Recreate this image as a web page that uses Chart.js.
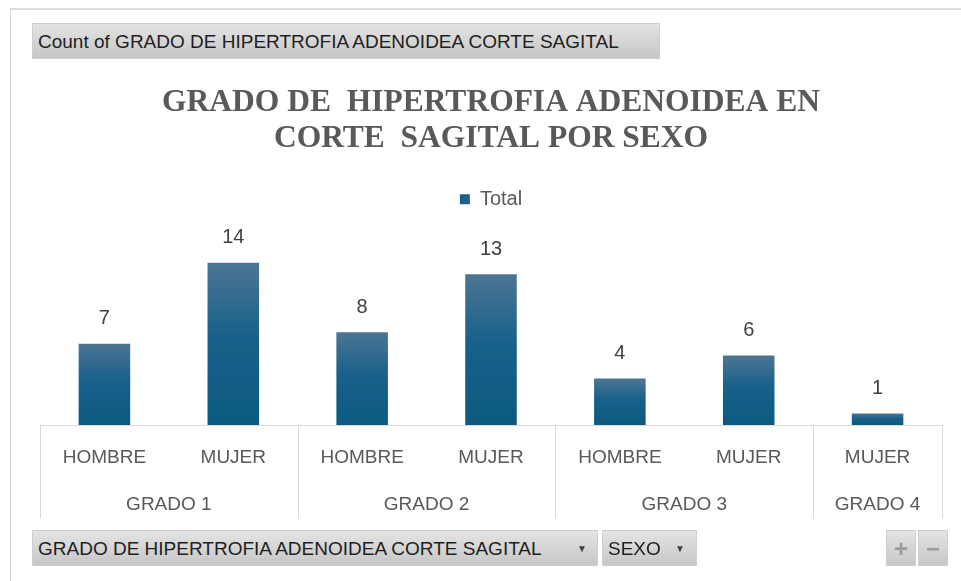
<!DOCTYPE html>
<html>
<head>
<meta charset="utf-8">
<script src="https://cdn.jsdelivr.net/npm/chart.js@4.4.1/dist/chart.umd.min.js"></script>
<style>
    html, body { margin: 0; padding: 0; background: #ffffff; }
    body { width: 961px; height: 581px; position: relative; overflow: hidden; font-family: "Liberation Sans", Arial, sans-serif; }
    #frame { position: absolute; left: 10px; top: 8px; width: 1000px; height: 600px; border-top: 2px solid #dcdcdc; border-left: 1px solid #d4d4d4; }
    #chartBox { position: absolute; left: 0; top: 0; width: 961px; height: 581px; }
    .pbtn {
        position: absolute; box-sizing: border-box; height: 36px; line-height: 36px;
        background: linear-gradient(#e4e4e4, #c6c6c6); border: 1px solid #cfcfcf;
        color: #1e1e1e; font-size: 19px; padding-left: 5px; white-space: nowrap;
    }
    .arrow { position: absolute; font-size: 10px; color: #404040; }
    .pm { text-align: center; padding: 0; color: #9b9b9b; font-size: 24px; font-weight: bold; }
</style>
</head>
<body>
<div id="frame"></div>
<div id="chartBox"><canvas id="graficoGrado"></canvas></div>
<div class="pbtn" style="left:32px; top:23px; width:628px;">Count of GRADO DE HIPERTROFIA ADENOIDEA CORTE SAGITAL</div>
<div class="pbtn" style="left:32px; top:530px; width:566px;">GRADO DE HIPERTROFIA ADENOIDEA CORTE SAGITAL<span class="arrow" style="left:544px;">&#9660;</span></div>
<div class="pbtn" style="left:602px; top:530px; width:95px;">SEXO<span class="arrow" style="left:72px;">&#9660;</span></div>
<div class="pbtn pm" style="left:886px; top:530px; width:30px;">+</div>
<div class="pbtn pm" style="left:918px; top:530px; width:30px;">&#8722;</div>
<script>
// Dados do gráfico
const sexo = ['HOMBRE', 'MUJER', 'HOMBRE', 'MUJER', 'HOMBRE', 'MUJER', 'MUJER'];
const grados = ['GRADO 1', 'GRADO 1', 'GRADO 2', 'GRADO 2', 'GRADO 3', 'GRADO 3', 'GRADO 4'];
const totales = [7, 14, 8, 13, 4, 6, 1];

const COLORS = {
    barTop: '#4d7594',
    barMid: '#18618a',
    barBottom: '#0c5a80',
    legend: '#1d6088',
    text: '#595959',
    label: '#404040',
    axis: '#d9d9d9'
};
const AXIS_HEIGHT = 93;

// gradiente por barra (mais claro no topo)
function barGradient(ctx) {
    const chart = ctx.chart;
    if (!chart.chartArea || ctx.type !== 'data') return COLORS.barMid;
    const y = chart.scales.y;
    const top = y.getPixelForValue(ctx.raw);
    const bottom = y.getPixelForValue(0);
    if (!isFinite(top) || !isFinite(bottom) || top === bottom) return COLORS.barMid;
    const g = chart.ctx.createLinearGradient(0, top, 0, bottom);
    g.addColorStop(0, COLORS.barTop);
    g.addColorStop(0.45, COLORS.barMid);
    g.addColorStop(1, COLORS.barBottom);
    return g;
}

// rótulos de valor acima das barras
const valueLabels = {
    id: 'valueLabels',
    afterDatasetsDraw(chart) {
        const ctx = chart.ctx;
        const meta = chart.getDatasetMeta(0);
        ctx.save();
        ctx.font = '20px "Liberation Sans", Arial, sans-serif';
        ctx.fillStyle = COLORS.label;
        ctx.textAlign = 'center';
        ctx.textBaseline = 'middle';
        meta.data.forEach((bar, i) => {
            ctx.fillText(String(totales[i]), bar.x, bar.y - 25);
        });
        ctx.restore();
    }
};

// eixo de categorias com dois níveis (sexo / grado)
const groupAxis = {
    id: 'groupAxis',
    afterDraw(chart) {
        const ctx = chart.ctx;
        const x = chart.scales.x;
        const area = chart.chartArea;
        const step = x.getPixelForValue(1) - x.getPixelForValue(0);
        const top = area.bottom;
        const bottom = area.bottom + AXIS_HEIGHT;

        // limites dos grupos
        const groups = [];
        grados.forEach((g, i) => {
            const last = groups[groups.length - 1];
            if (last && last.name === g) last.end = i;
            else groups.push({ name: g, start: i, end: i });
        });

        ctx.save();
        ctx.strokeStyle = COLORS.axis;
        ctx.lineWidth = 1;
        const edges = [x.getPixelForValue(0) - step / 2];
        groups.forEach(g => edges.push(x.getPixelForValue(g.end) + step / 2));
        edges.forEach(px => {
            const p = Math.round(px) + 0.5;
            ctx.beginPath();
            ctx.moveTo(p, top);
            ctx.lineTo(p, bottom);
            ctx.stroke();
        });

        ctx.font = '19px "Liberation Sans", Arial, sans-serif';
        ctx.fillStyle = COLORS.text;
        ctx.textAlign = 'center';
        ctx.textBaseline = 'middle';
        groups.forEach(g => {
            const cx = (x.getPixelForValue(g.start) + x.getPixelForValue(g.end)) / 2;
            ctx.fillText(g.name, cx, top + 80);
        });
        ctx.restore();
    }
};

function createGradoChart() {
    const canvas = document.getElementById('graficoGrado');
    if (typeof Chart === 'undefined' || !canvas) return;

    new Chart(canvas.getContext('2d'), {
        type: 'bar',
        data: {
            labels: sexo,
            datasets: [{
                label: 'Total',
                data: totales,
                backgroundColor: barGradient,
                borderWidth: 0,
                categoryPercentage: 1,
                barPercentage: 0.4
            }]
        },
        options: {
            responsive: true,
            maintainAspectRatio: false,
            animation: false,
            layout: { padding: { top: 85, left: 40, right: 19, bottom: 63 } },
            plugins: {
                title: {
                    display: true,
                    text: ['GRADO DE  HIPERTROFIA ADENOIDEA EN', 'CORTE  SAGITAL POR SEXO'],
                    color: COLORS.text,
                    font: { family: '"Liberation Serif", "Times New Roman", serif', size: 31.5, weight: 'bold', lineHeight: 1.13 },
                    padding: { top: 0, bottom: 25 }
                },
                legend: {
                    display: true,
                    position: 'top',
                    labels: {
                        color: COLORS.text,
                        font: { family: '"Liberation Sans", Arial, sans-serif', size: 20 },
                        boxWidth: 10,
                        boxHeight: 10,
                        padding: 8,
                        generateLabels: () => [{
                            text: 'Total', fillStyle: COLORS.legend, strokeStyle: COLORS.legend,
                            fontColor: COLORS.text, lineWidth: 0, hidden: false, datasetIndex: 0
                        }]
                    }
                },
                tooltip: { enabled: false }
            },
            scales: {
                y: { display: false, min: 0, max: 17.75 },
                x: {
                    grid: { display: false, drawTicks: false },
                    border: { display: true, color: COLORS.axis, width: 1 },
                    ticks: {
                        color: COLORS.text,
                        font: { family: '"Liberation Sans", Arial, sans-serif', size: 19 },
                        padding: 21,
                        maxRotation: 0,
                        autoSkip: false
                    },
                    afterFit(scale) { scale.height = AXIS_HEIGHT; }
                }
            }
        },
        plugins: [valueLabels, groupAxis]
    });
}

createGradoChart();
</script>
</body>
</html>
